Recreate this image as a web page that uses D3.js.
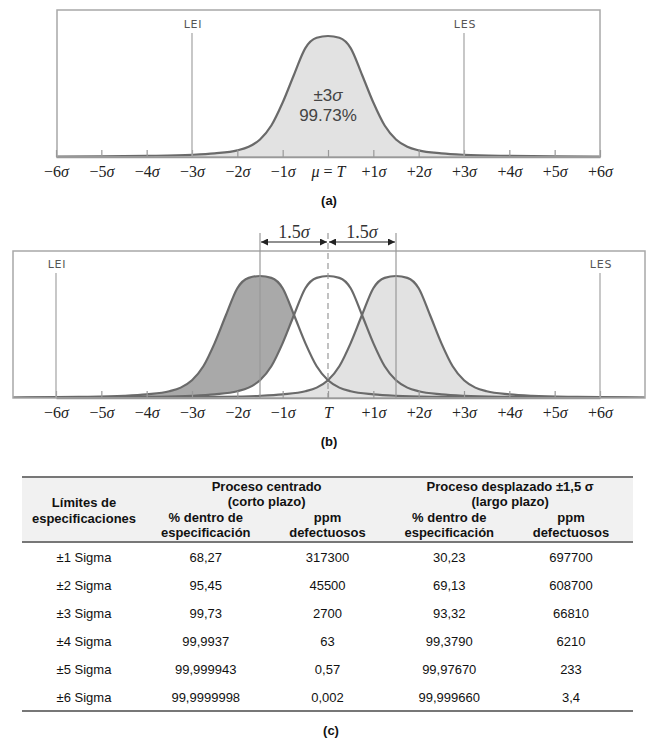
<!DOCTYPE html>
<html>
<head>
<meta charset="utf-8">
<script src="https://cdn.jsdelivr.net/npm/d3@7"></script>
<style>
  body { margin: 0; background: #fff; }
  svg { display: block; }
</style>
</head>
<body>
<svg></svg>
<script>
let width = 650
let height = 740

// perfil de la curva: distancia al centro (en sigma) y altura relativa
let desvios = [0, 0.25, 0.5, 0.75, 1, 1.25, 1.5, 1.75, 2, 2.5, 3, 4, 5, 6, 7, 8.5]
let alturas = [1, 0.985, 0.9, 0.68, 0.45, 0.26, 0.145, 0.085, 0.055, 0.03, 0.018, 0.009, 0.005, 0.003, 0.002, 0]

let sigmas = [-6, -5, -4, -3, -2, -1, 0, 1, 2, 3, 4, 5, 6]
let etiquetasA = ['−6', '−5', '−4', '−3', '−2', '−1', 'μ = T', '+1', '+2', '+3', '+4', '+5', '+6']
let etiquetasB = ['−6', '−5', '−4', '−3', '−2', '−1', 'T', '+1', '+2', '+3', '+4', '+5', '+6']

let limitesA = [{ nombre: 'LEI', valor: -3 }, { nombre: 'LES', valor: 3 }]
let limitesB = [{ nombre: 'LEI', valor: -6 }, { nombre: 'LES', valor: 6 }]
let desplazamientos = [-1.5, 0, 1.5]

// tabla (c)
let limites = ['±1 Sigma', '±2 Sigma', '±3 Sigma', '±4 Sigma', '±5 Sigma', '±6 Sigma']
let pctCentrado = ['68,27', '95,45', '99,73', '99,9937', '99,999943', '99,9999998']
let ppmCentrado = ['317300', '45500', '2700', '63', '0,57', '0,002']
let pctDesplazado = ['30,23', '69,13', '93,32', '99,3790', '99,97670', '99,999660']
let ppmDesplazado = ['697700', '608700', '66810', '6210', '233', '3,4']

let svg = d3.select('svg').attr('width', width).attr('height', height)

let gris = '#6a6a6a'
let serif = '"Liberation Serif", "Times New Roman", serif'
let sans = '"Liberation Sans", Arial, sans-serif'

let xScale = d3.scaleLinear().domain([-6, 6]).range([56, 600])

let puntos = (centro) => {
  let izq = desvios.slice(1).map((d, i) => [centro - d, alturas[i + 1]]).reverse()
  let der = desvios.map((d, i) => [centro + d, alturas[i]])
  return izq.concat(der)
}

let defs = svg.append('defs')
defs.append('marker')
  .attr('id', 'flecha')
  .attr('viewBox', '0 0 10 10')
  .attr('refX', 10).attr('refY', 5)
  .attr('markerWidth', 9).attr('markerHeight', 7)
  .attr('markerUnits', 'userSpaceOnUse')
  .attr('orient', 'auto-start-reverse')
  .append('path').attr('d', 'M0,0 L10,5 L0,10 z').attr('fill', '#222')

let ponerEtiqueta = (sel, txt) => {
  sel.text(null)
  if (txt === 'T') {
    sel.append('tspan').style('font-style', 'italic').text('T')
  } else if (txt === 'μ = T') {
    sel.append('tspan').style('font-style', 'italic').text('μ')
    sel.append('tspan').text(' = ')
    sel.append('tspan').style('font-style', 'italic').text('T')
  } else {
    sel.append('tspan').text(txt)
    sel.append('tspan').style('font-style', 'italic').text('σ')
  }
}

let drawPanel = (cfg) => {
  let g = svg.append('g')
  let yScale = d3.scaleLinear().domain([0, 1]).range([cfg.base, cfg.pico])

  defs.append('clipPath').attr('id', cfg.id)
    .append('rect')
    .attr('x', cfg.x0).attr('y', cfg.top)
    .attr('width', cfg.x1 - cfg.x0).attr('height', cfg.base - cfg.top)

  let area = d3.area()
    .x((d) => xScale(d[0]))
    .y0(yScale(0))
    .y1((d) => yScale(d[1]))
    .curve(d3.curveMonotoneX)
  let linea = d3.line()
    .x((d) => xScale(d[0]))
    .y((d) => yScale(d[1]))
    .curve(d3.curveMonotoneX)

  let curvas = g.append('g').attr('clip-path', 'url(#' + cfg.id + ')')
  cfg.centros.forEach((c, i) => {
    curvas.append('path')
      .attr('d', area(puntos(c)))
      .attr('fill', cfg.rellenos[i])
  })

  // caja
  g.append('rect')
    .attr('x', cfg.x0).attr('y', cfg.top)
    .attr('width', cfg.x1 - cfg.x0).attr('height', cfg.base - cfg.top)
    .attr('fill', 'none').attr('stroke', '#a8a8a8').attr('stroke-width', 1.5)

  // eje
  let eje = g.append('g')
    .attr('transform', 'translate(0,' + cfg.base + ')')
    .call(d3.axisBottom(xScale).tickValues(sigmas).tickSizeInner(-7).tickSizeOuter(0).tickPadding(9))
  eje.select('.domain').attr('stroke', '#999').attr('stroke-width', 1.5)
  eje.selectAll('.tick line').attr('stroke', '#999').attr('stroke-width', 1.2)
  eje.selectAll('.tick text')
    .attr('font-family', serif).attr('font-size', 16).attr('fill', '#222')
    .each(function (d, i) { ponerEtiqueta(d3.select(this), cfg.etiquetas[i]) })

  // limites de especificacion
  cfg.limites.forEach((l) => {
    g.append('line')
      .attr('x1', xScale(l.valor)).attr('x2', xScale(l.valor))
      .attr('y1', cfg.limTop).attr('y2', cfg.base)
      .attr('stroke', '#aaa').attr('stroke-width', 1.3)
    g.append('text')
      .attr('x', xScale(l.valor) + 1).attr('y', cfg.limTop - 5)
      .attr('text-anchor', 'middle')
      .attr('font-family', '"DejaVu Sans", sans-serif').attr('font-size', 11)
      .attr('letter-spacing', 0.8)
      .attr('fill', '#555')
      .text(l.nombre)
  })

  if (cfg.extra) cfg.extra(g, xScale, yScale)

  cfg.centros.forEach((c) => {
    curvas.append('path')
      .attr('d', linea(puntos(c)))
      .attr('fill', 'none').attr('stroke', gris).attr('stroke-width', 2.2)
  })

  svg.append('text')
    .attr('x', 329).attr('y', cfg.letraY)
    .attr('text-anchor', 'middle')
    .attr('font-family', sans).attr('font-weight', 'bold').attr('font-size', 13)
    .attr('fill', '#111')
    .text(cfg.letra)
}

// panel (a)
drawPanel({
  id: 'clipA', x0: 57, x1: 600, top: 10, base: 157, pico: 36,
  centros: [0], rellenos: ['#e2e2e2'],
  etiquetas: etiquetasA, limites: limitesA, limTop: 33,
  letra: '(a)', letraY: 205,
  extra: (g, x) => {
    let t = g.append('text')
      .attr('x', x(0)).attr('y', 101)
      .attr('text-anchor', 'middle')
      .attr('font-family', sans).attr('font-size', 17).attr('fill', '#444')
    t.append('tspan').text('±3')
    t.append('tspan').style('font-style', 'italic').text('σ')
    g.append('text')
      .attr('x', x(0)).attr('y', 121)
      .attr('text-anchor', 'middle')
      .attr('font-family', sans).attr('font-size', 17).attr('fill', '#444')
      .text('99.73%')
  }
})

// panel (b)
drawPanel({
  id: 'clipB', x0: 13, x1: 645, top: 251, base: 398, pico: 276,
  centros: desplazamientos, rellenos: ['#a9a9a9', '#ffffff', '#e2e2e2'],
  etiquetas: etiquetasB, limites: limitesB, limTop: 273,
  letra: '(b)', letraY: 446,
  extra: (g, x) => {
    desplazamientos.forEach((d) => {
      g.append('line')
        .attr('x1', x(d)).attr('x2', x(d))
        .attr('y1', 233).attr('y2', 398)
        .attr('stroke', '#999').attr('stroke-width', 1.2)
        .attr('stroke-dasharray', d === 0 ? '6,4' : null)
    })
    let pares = [[-1.5, 0], [0, 1.5]]
    pares.forEach((p) => {
      g.append('line')
        .attr('x1', x(p[0]) + 1).attr('x2', x(p[1]) - 1)
        .attr('y1', 242).attr('y2', 242)
        .attr('stroke', '#222').attr('stroke-width', 1.2)
        .attr('marker-start', 'url(#flecha)').attr('marker-end', 'url(#flecha)')
      let t = g.append('text')
        .attr('x', x((p[0] + p[1]) / 2)).attr('y', 238)
        .attr('text-anchor', 'middle')
        .attr('font-family', serif).attr('font-size', 18).attr('fill', '#333')
      t.append('tspan').text('1.5')
      t.append('tspan').style('font-style', 'italic').text('σ')
    })
  }
})

// tabla (c)
let columnas = ['lim', 'pc', 'ppc', 'pd', 'ppd']
let colScale = d3.scalePoint().domain(columnas).range([84, 571])
let filaScale = d3.scalePoint().domain(limites).range([557, 697])

let tabla = svg.append('g').attr('font-family', sans).attr('font-size', 13).attr('fill', '#111')

tabla.append('rect')
  .attr('x', 22).attr('y', 477).attr('width', 611).attr('height', 65)
  .attr('fill', '#f1f1f1')

let reglas = [477, 542, 711]
reglas.forEach((y) => {
  tabla.append('line')
    .attr('x1', 22).attr('x2', 633).attr('y1', y).attr('y2', y)
    .attr('stroke', '#777').attr('stroke-width', 2)
})

let cabecera = [
  { x: colScale('lim'), y: 507, t: 'Límites de' },
  { x: colScale('lim'), y: 523, t: 'especificaciones' },
  { x: (colScale('pc') + colScale('ppc')) / 2, y: 491, t: 'Proceso centrado' },
  { x: (colScale('pc') + colScale('ppc')) / 2, y: 506, t: '(corto plazo)' },
  { x: (colScale('pd') + colScale('ppd')) / 2, y: 491, t: 'Proceso desplazado ±1,5 σ' },
  { x: (colScale('pd') + colScale('ppd')) / 2, y: 506, t: '(largo plazo)' },
  { x: colScale('pc'), y: 522, t: '% dentro de' },
  { x: colScale('pc'), y: 537, t: 'especificación' },
  { x: colScale('ppc'), y: 522, t: 'ppm' },
  { x: colScale('ppc'), y: 537, t: 'defectuosos' },
  { x: colScale('pd'), y: 522, t: '% dentro de' },
  { x: colScale('pd'), y: 537, t: 'especificación' },
  { x: colScale('ppd'), y: 522, t: 'ppm' },
  { x: colScale('ppd'), y: 537, t: 'defectuosos' }
]
tabla.selectAll('text.cab')
  .data(cabecera)
  .enter()
  .append('text')
  .attr('class', 'cab')
  .attr('x', (d) => d.x).attr('y', (d) => d.y)
  .attr('text-anchor', 'middle')
  .attr('font-weight', 'bold')
  .text((d) => d.t)

let filas = limites.map((l, i) => [l, pctCentrado[i], ppmCentrado[i], pctDesplazado[i], ppmDesplazado[i]])
filas.forEach((fila) => {
  tabla.selectAll(null)
    .data(fila)
    .enter()
    .append('text')
    .attr('x', (d, j) => colScale(columnas[j]))
    .attr('y', filaScale(fila[0]))
    .attr('dy', '0.36em')
    .attr('text-anchor', 'middle')
    .text((d) => d)
})

svg.append('text')
  .attr('x', 331).attr('y', 735)
  .attr('text-anchor', 'middle')
  .attr('font-family', sans).attr('font-weight', 'bold').attr('font-size', 13)
  .attr('fill', '#111')
  .text('(c)')
</script>
</body>
</html>
